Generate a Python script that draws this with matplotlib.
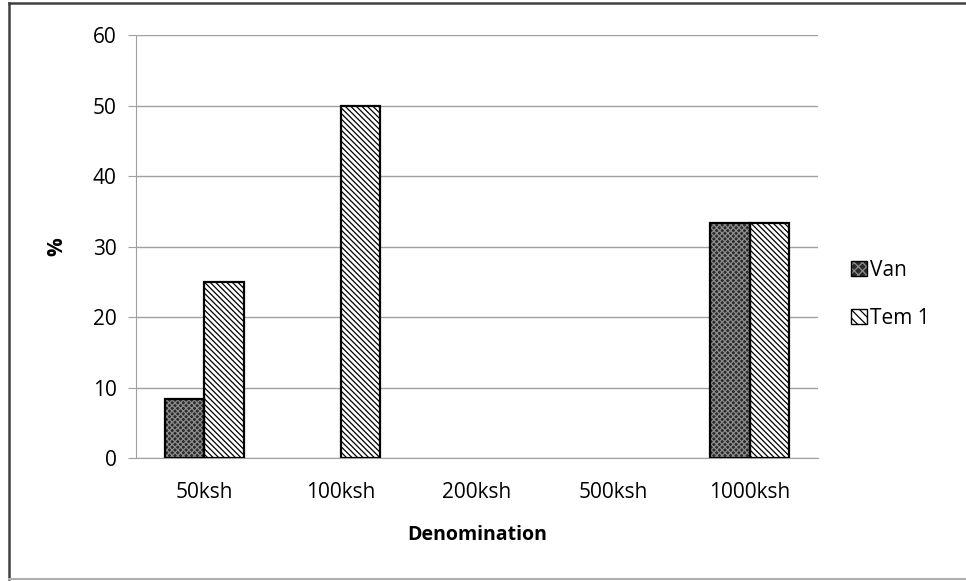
import matplotlib.pyplot as plt
import numpy as np
from matplotlib.lines import Line2D
from matplotlib.patches import Patch

plt.rcParams['font.family'] = ['Open Sans', 'DejaVu Sans']
plt.rcParams['hatch.linewidth'] = 0.9

categories = ["50ksh", "100ksh", "200ksh", "500ksh", "1000ksh"]
van = [8.33, 0, 0, 0, 33.33]
tem1 = [25, 50, 0, 0, 33.33]
series_names = ["Van", "Tem 1"]

fig = plt.figure(figsize=(9.66, 5.81), dpi=100)
ax = fig.add_axes([0.1408, 0.2117, 0.706, 0.728])

# frame round the chart: dark left/top, light bottom
fig.add_artist(Line2D([0.0098, 0.0098], [0.003, 0.995], transform=fig.transFigure,
                      color="#404040", linewidth=1.8))
fig.add_artist(Line2D([0.0098, 1.0], [0.995, 0.995], transform=fig.transFigure,
                      color="#404040", linewidth=1.8))
fig.add_artist(Line2D([0.0098, 1.0], [0.003, 0.003], transform=fig.transFigure,
                      color="#b0b0b0", linewidth=1.5))

x = np.arange(len(categories))
w = 0.29
van_face, van_hatch_col = "#2a2a2a", "#8c8c8c"
van_hatch = "xxxxxx"
tem_hatch = "\\\\\\\\\\\\"


def hatched_bars(xs, vals, face, hatch, hatch_col):
    xs = np.asarray(xs)
    vals = np.asarray(vals, dtype=float)
    keep = vals > 0
    ax.bar(xs[keep], vals[keep], w, color=face, edgecolor=hatch_col,
           hatch=hatch, linewidth=0, zorder=3)
    ax.bar(xs[keep], vals[keep], w, fill=False, edgecolor="black",
           linewidth=1.6, zorder=4)


hatched_bars(x - w / 2, van, van_face, van_hatch, van_hatch_col)
hatched_bars(x + w / 2, tem1, "white", tem_hatch, "black")

ax.set_xlim(-0.5, len(categories) - 0.5)
ax.set_ylim(0, 60)
ax.set_yticks(range(0, 61, 10))
ax.set_xticks(x)
ax.set_xticklabels(categories)
ax.yaxis.grid(True, color="#a0a0a0", linewidth=1)
ax.set_axisbelow(True)
for s in ["top", "right"]:
    ax.spines[s].set_visible(False)
ax.spines["left"].set_color("#a0a0a0")
ax.spines["bottom"].set_color("#a0a0a0")
ax.tick_params(axis="y", length=6, color="#a0a0a0", labelsize=15, pad=8)
ax.tick_params(axis="x", length=0, labelsize=15, pad=17)
ax.set_xlabel("Denomination", fontsize=14, fontweight="bold", labelpad=16)
ax.set_ylabel("%", fontsize=15, fontweight="bold", labelpad=18)

handles = [
    (Patch(facecolor=van_face, edgecolor=van_hatch_col, hatch="xxxx", linewidth=0),
     Patch(fill=False, edgecolor="black", linewidth=1)),
    (Patch(facecolor="white", edgecolor="black", hatch="\\\\\\\\", linewidth=0),
     Patch(fill=False, edgecolor="black", linewidth=1)),
]
fig.legend(handles, series_names, loc="upper left", bbox_to_anchor=(0.862, 0.585),
           frameon=False, fontsize=15, handlelength=0.75, handleheight=0.75,
           handletextpad=0.15, labelspacing=1.3)

fig.savefig("out.png", dpi=100)
